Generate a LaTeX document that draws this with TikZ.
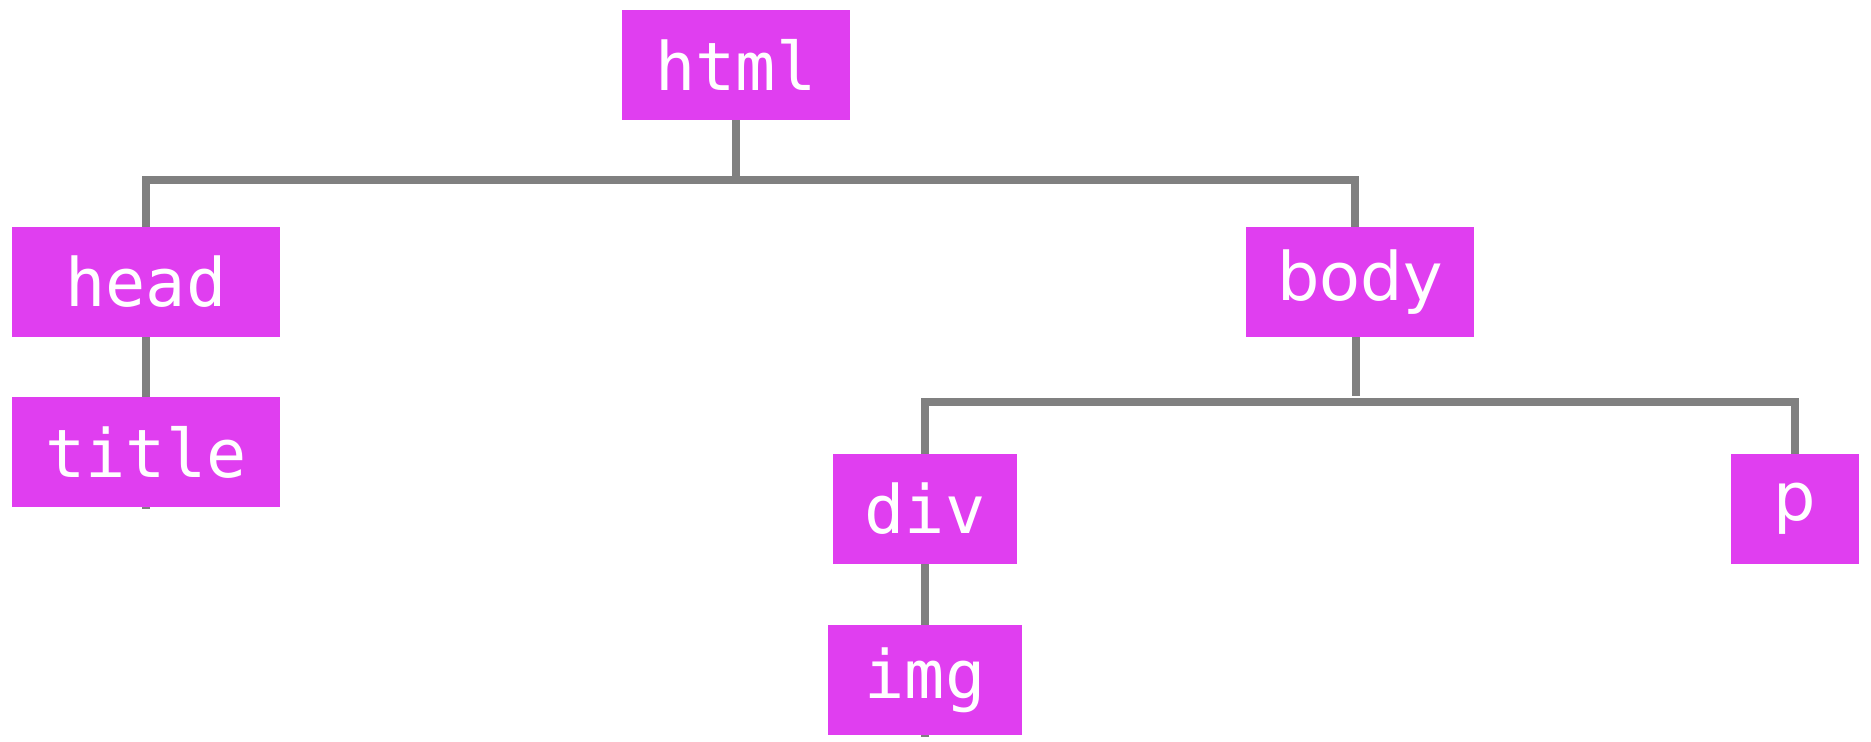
\documentclass[tikz,border=0pt]{standalone}
\usepackage{fontspec}
\usetikzlibrary{positioning, calc, backgrounds}
\usepackage{xcolor}
\definecolor{tagpink}{HTML}{E03EF0}
\definecolor{treegray}{HTML}{808080}
\newfontfamily\tagmono{DejaVu Sans Mono}
\newfontfamily\tagsans{DejaVu Sans}

\begin{document}
\begin{tikzpicture}[x=0.01cm, y=-0.01cm,
    tag/.style={fill=tagpink, text=white, inner sep=0pt, minimum height=1.09cm,
                font=\tagmono\fontsize{19}{19}\selectfont},
    tagsf/.style={tag, font=\tagsans\fontsize{19}{19}\selectfont},
    branch/.style={draw=treegray, line width=2pt}]
        \useasboundingbox (0,0) rectangle (1871,741);
        \node[tag, minimum width=2.28cm] (html) at (736,65) {html};
        \node[tag, minimum width=2.68cm] (head) at (146,282) {head};
        \node[tag, minimum width=2.68cm] (title) at (146,452) {title};
        \node[tagsf, minimum width=2.28cm] (body) at (1360,282) {body};
        \node[tag, minimum width=1.84cm] (div) at (925,509) {div};
        \node[tag, minimum width=1.94cm] (img) at (925,680) {img};
        \node[tagsf, minimum width=1.28cm] (p) at (1795,509) {p};
        \coordinate (root bus) at (736,180);
        \coordinate (body bus) at (1356,402);
        \begin{scope}[on background layer]
          \draw[branch] (html.south) -- (root bus);
          \draw[branch] (head.north) |- (root bus) -| ($(body.north)+(-5,0)$);
          \draw[branch] (head.south) -- ($(title.south)+(0,2)$);
          \draw[branch] ($(body.south)+(-4,0)$) -- ($(body bus)+(0,-6)$);
          \draw[branch] (div.north) |- (body bus) -| (p.north);
          \draw[branch] (div.south) -- ($(img.south)+(0,2)$);
        \end{scope}
      \end{tikzpicture}
\end{document}
